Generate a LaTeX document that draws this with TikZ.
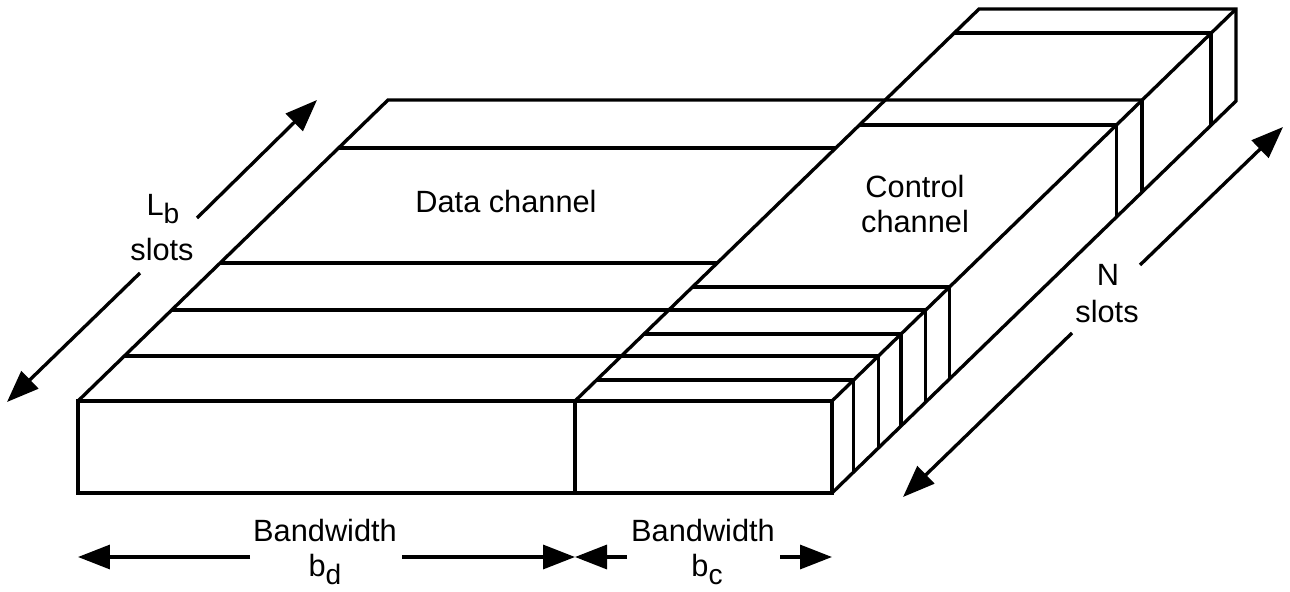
\documentclass[tikz,border=0pt]{standalone}
\usepackage{fontspec}
\setmainfont{Liberation Sans}
\usetikzlibrary{arrows.meta}
% subscript set almost full size and dropped below the baseline
\newcommand\lowsub[1]{\raisebox{-5pt}{\fontsize{16}{16}\selectfont #1}}

\begin{document}
\begin{tikzpicture}[x=0.02cm, y=-0.02cm,
  edge/.style={line width=1.9pt, line join=miter},
  dimarrow/.style={line width=1.9pt, -{Triangle[length=0.64cm, width=0.48cm]}},
  lbl/.style={font=\fontsize{17.5}{21}\selectfont, inner sep=0pt, anchor=base}]
\useasboundingbox (0,0) rectangle (1290,591);

% ---- front faces of the data and control blocks
\draw[edge] (78,401) rectangle (832,493);
\draw[edge] (575,401) -- (575,493);

% ---- outline of the top surface
\draw[edge] (78,401) -- (388,100) -- (1142,100);
\draw[edge] (575,401) -- (979,9) -- (1236,9) -- (1236,101) -- (832,493);
\draw[edge] (832,401) -- (1236,9);

% ---- slot boundaries across the data channel
\draw[edge] (338.6,148) -- (835.6,148);
\draw[edge] (220.1,263) -- (717.1,263);
\draw[edge] (171.7,310) -- (925.7,310);
\draw[edge] (124.4,356) -- (878.4,356);

% ---- slot boundaries of the control channel
\draw[edge] (596.6,380) -- (853.6,380);
\draw[edge] (644,334) -- (901,334);
\draw[edge] (692.4,287) -- (949.4,287);
\draw[edge] (859.3,125) -- (1116.3,125);
\draw[edge] (954,33) -- (1211,33);

% ---- slot edges on the right side face
\foreach \sx/\sy in {853.6/380, 878.4/356, 901/334, 925.7/310, 949.4/287,
                     1116.3/125, 1142/100, 1211/33}
  \draw[edge] (\sx,\sy) -- (\sx,\sy+92);

% ---- labels on the top surface
\node[lbl] (datalbl) at (506,213) {Data channel};
\node[lbl] (ctrl1) at (915,197) {Control};
\node[lbl] (ctrl2) at (915,233) {channel};

% ---- L_b slots dimension
\node[lbl] (lblL) at (163,215) {L\lowsub{b}};
\node[lbl] (lblLs) at (162,260) {slots};
\coordinate (lbA) at (197,218);
\coordinate (lbAtip) at (317,100);
\coordinate (lbB) at (140,273);
\coordinate (lbBtip) at (7,402);
\draw[dimarrow] (lbA) -- (lbAtip);
\draw[dimarrow] (lbB) -- (lbBtip);

% ---- N slots dimension
\node[lbl] (lblN) at (1108,285) {N};
\node[lbl] (lblNs) at (1107,322) {slots};
\coordinate (nA) at (1140,265);
\coordinate (nAtip) at (1283,127);
\coordinate (nB) at (1072,333);
\coordinate (nBtip) at (903,497);
\draw[dimarrow] (nA) -- (nAtip);
\draw[dimarrow] (nB) -- (nBtip);

% ---- data bandwidth
\node[lbl] (bwd) at (325,541) {Bandwidth};
\node[lbl] (bd) at (325,576) {b\lowsub{d}};
\coordinate (bdA) at (250,557);
\coordinate (bdAtip) at (78,557);
\coordinate (bdB) at (402,557);
\coordinate (bdBtip) at (575,557);
\draw[dimarrow] (bdA) -- (bdAtip);
\draw[dimarrow] (bdB) -- (bdBtip);

% ---- control bandwidth
\node[lbl] (bwc) at (703,541) {Bandwidth};
\node[lbl] (bc) at (707,576) {b\lowsub{c}};
\coordinate (bcA) at (627,557);
\coordinate (bcAtip) at (575,557);
\coordinate (bcB) at (780,557);
\coordinate (bcBtip) at (832,557);
\draw[dimarrow] (bcA) -- (bcAtip);
\draw[dimarrow] (bcB) -- (bcBtip);
\end{tikzpicture}
\end{document}
